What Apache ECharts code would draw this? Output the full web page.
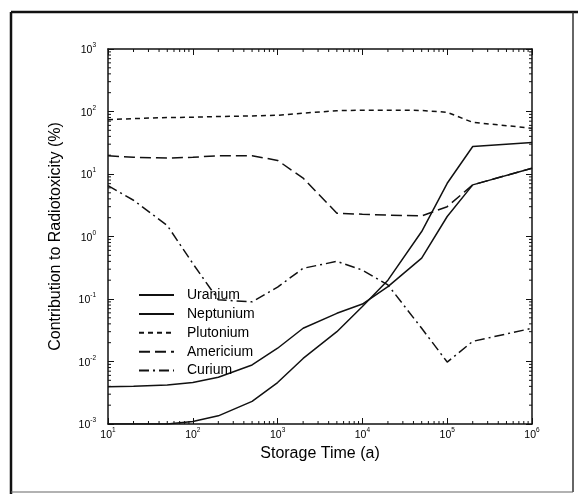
<!DOCTYPE html>
<html>
<head>
<meta charset="utf-8">
<script src="https://cdn.jsdelivr.net/npm/echarts@6/dist/echarts.min.js"></script>
<style>
  html, body { margin: 0; padding: 0; background: #fff; }
  #chart { width: 578px; height: 502px; }
</style>
</head>
<body>
<div id="chart"></div>
<script>
// Storage time (years) at which each contribution was evaluated
const years = [10, 20, 50, 100, 200, 500, 1000, 2000, 5000, 1e4, 2e4, 5e4, 1e5, 2e5, 1e6];

// Contribution of each element to total radiotoxicity (%)
const uranium   = [0.001, 0.001, 0.001, 0.0011, 0.00135, 0.0023, 0.0046, 0.0112, 0.030, 0.076, 0.20, 1.2, 7.1, 27.5, 32];
const neptunium = [0.00395, 0.0040, 0.0042, 0.0046, 0.0056, 0.0088, 0.0163, 0.034, 0.059, 0.083, 0.158, 0.45, 2.09, 6.7, 12.4];
const plutonium = [74, 77, 80, 81, 83, 85, 87, 94, 103, 105, 105, 104, 97, 67, 54];
const americium = [19.6, 18.5, 18, 18.5, 19.6, 19.6, 16.5, 8.6, 2.36, 2.27, 2.2, 2.14, 3.0, 6.7, 12.4];
const curium    = [6.5, 3.8, 1.5, 0.37, 0.097, 0.09, 0.155, 0.31, 0.40, 0.29, 0.168, 0.034, 0.0098, 0.021, 0.034];

const seriesNames = ['Uranium', 'Neptunium', 'Plutonium', 'Americium', 'Curium'];
const xExtent = [10, 1e6];
const yExtent = [1e-3, 1e3];

const FONT = '"Liberation Sans", Arial, Helvetica, sans-serif';

function pairs(vals) {
  return years.map((t, i) => [t, vals[i]]);
}

// minor tick positions (2..9 within each decade)
function minorValues(lo, hi) {
  const out = [];
  for (let e = Math.round(Math.log10(lo)); e < Math.round(Math.log10(hi)); e++) {
    for (let m = 2; m <= 9; m++) out.push(m * Math.pow(10, e));
  }
  return out;
}
const minorX = minorValues(xExtent[0], xExtent[1]);
const minorY = minorValues(yExtent[0], yExtent[1]);

function powLabel(v) {
  const e = Math.round(Math.log10(v));
  return '{b|10}{s|' + e + '}';
}
const labelRich = {
  b: { fontSize: 10.5, fontFamily: FONT, color: '#000', lineHeight: 14, verticalAlign: 'bottom' },
  s: { fontSize: 6.5, fontFamily: FONT, color: '#000', lineHeight: 14, verticalAlign: 'top' }
};

const black = '#111';
const lineW = 1.5;

function lineSeries(name, vals, type) {
  return {
    name: name,
    type: 'line',
    data: pairs(vals),
    symbol: 'none',
    smooth: false,
    clip: true,
    lineStyle: { color: black, width: lineW, type: type },
    itemStyle: { color: black },
    z: 3
  };
}

// short inward tick marks along the plot frame for the minor decade values
function minorTickSeries(values, dir) {
  return {
    type: 'custom',
    silent: true,
    clip: false,
    z: 4,
    data: values.map(v => dir === 'x' ? [v, yExtent[0]] : [xExtent[0], v]),
    renderItem: function (params, api) {
      const v = api.value(dir === 'x' ? 0 : 1);
      const L = 3;
      const st = { stroke: black, lineWidth: 1 };
      if (dir === 'x') {
        const a = api.coord([v, yExtent[0]]);
        const b = api.coord([v, yExtent[1]]);
        return { type: 'group', children: [
          { type: 'line', shape: { x1: a[0], y1: a[1], x2: a[0], y2: a[1] - L }, style: st },
          { type: 'line', shape: { x1: b[0], y1: b[1], x2: b[0], y2: b[1] + L }, style: st }
        ]};
      } else {
        const a = api.coord([xExtent[0], v]);
        const b = api.coord([xExtent[1], v]);
        return { type: 'group', children: [
          { type: 'line', shape: { x1: a[0], y1: a[1], x2: a[0] + L, y2: a[1] }, style: st },
          { type: 'line', shape: { x1: b[0], y1: b[1], x2: b[0] - L, y2: b[1] }, style: st }
        ]};
      }
    }
  };
}

const axisLineStyle = { color: black, width: 1.5 };

const chart = echarts.init(document.getElementById('chart'), null, { renderer: 'canvas' });

chart.setOption({
  animation: false,
  backgroundColor: '#fff',
  grid: { left: 108, right: 46, top: 49, bottom: 78, containLabel: false },
  legend: {
    data: seriesNames,
    orient: 'vertical',
    left: 138,
    top: 288,
    padding: 0,
    itemWidth: 35,
    itemHeight: 12,
    itemGap: 4.9,
    itemStyle: { opacity: 0 },
    textStyle: { fontFamily: FONT, fontSize: 14, color: '#000', padding: [0, 0, 0, 8] },
    selectedMode: false
  },
  xAxis: [
    {
      type: 'log', logBase: 10, min: xExtent[0], max: xExtent[1],
      splitNumber: 5,
      name: 'Storage Time (a)', nameLocation: 'middle', nameGap: 10,
      nameTextStyle: { fontFamily: FONT, fontSize: 16, color: '#000' },
      axisLine: { show: true, lineStyle: axisLineStyle },
      axisTick: { show: true, inside: true, length: 6, lineStyle: { color: black, width: 1 } },
      axisLabel: { formatter: powLabel, rich: labelRich, margin: 3 },
      splitLine: { show: false }
    },
    {
      type: 'log', logBase: 10, min: xExtent[0], max: xExtent[1],
      splitNumber: 5, position: 'top',
      axisLine: { show: true, lineStyle: axisLineStyle },
      axisTick: { show: true, inside: true, length: 6, lineStyle: { color: black, width: 1 } },
      axisLabel: { show: false },
      splitLine: { show: false }
    }
  ],
  yAxis: [
    {
      type: 'log', logBase: 10, min: yExtent[0], max: yExtent[1],
      splitNumber: 6,
      name: 'Contribution to Radiotoxicity (%)', nameLocation: 'middle', nameGap: 44,
      nameTextStyle: { fontFamily: FONT, fontSize: 16, color: '#000' },
      axisLine: { show: true, lineStyle: axisLineStyle },
      axisTick: { show: true, inside: true, length: 6, lineStyle: { color: black, width: 1 } },
      axisLabel: { formatter: powLabel, rich: labelRich, margin: 12 },
      splitLine: { show: false }
    },
    {
      type: 'log', logBase: 10, min: yExtent[0], max: yExtent[1],
      splitNumber: 6, position: 'right',
      axisLine: { show: true, lineStyle: axisLineStyle },
      axisTick: { show: true, inside: true, length: 6, lineStyle: { color: black, width: 1 } },
      axisLabel: { show: false },
      splitLine: { show: false }
    }
  ],
  series: [
    lineSeries('Uranium', uranium, 'solid'),
    lineSeries('Neptunium', neptunium, 'solid'),
    lineSeries('Plutonium', plutonium, [5, 4]),
    lineSeries('Americium', americium, [11, 5]),
    lineSeries('Curium', curium, [10, 4, 2, 4]),
    minorTickSeries(minorX, 'x'),
    minorTickSeries(minorY, 'y')
  ],
  graphic: [
    // outer frame around the figure
    { type: 'line', shape: { x1: 11, y1: 12, x2: 578, y2: 12 }, style: { stroke: black, lineWidth: 2.5 } },
    { type: 'line', shape: { x1: 11, y1: 12, x2: 11, y2: 494 }, style: { stroke: black, lineWidth: 2.5 } },
    { type: 'line', shape: { x1: 573, y1: 12, x2: 573, y2: 492 }, style: { stroke: '#333', lineWidth: 1.5 } },
    { type: 'line', shape: { x1: 11, y1: 492, x2: 573, y2: 492 }, style: { stroke: '#666', lineWidth: 1.2 } }
  ]
});
</script>
</body>
</html>
